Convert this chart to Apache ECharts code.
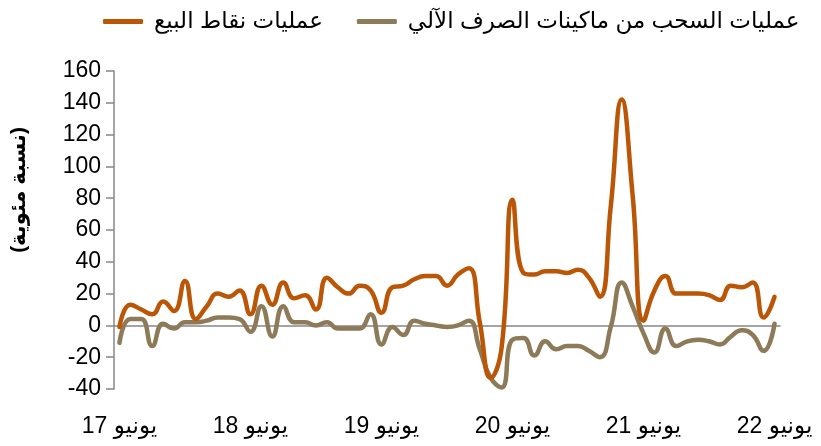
<!DOCTYPE html>
<html>
<head>
<meta charset="utf-8">
<script src="https://cdn.jsdelivr.net/npm/echarts@6/dist/echarts.min.js"></script>
<style>
  html, body { margin: 0; padding: 0; background: #fff; }
  #chart { width: 821px; height: 446px; }
</style>
</head>
<body>
<div id="chart"></div>
<script>
// monthly, June 2017 .. June 2022 (YoY %)
var monthNames = ['يونيو', 'يوليو', 'أغسطس', 'سبتمبر', 'أكتوبر', 'نوفمبر', 'ديسمبر', 'يناير', 'فبراير', 'مارس', 'أبريل', 'مايو'];
var years = ['17', '18', '19', '20', '21', '22'];
var posName = 'عمليات نقاط البيع';
var atmName = 'عمليات السحب من ماكينات الصرف الآلي';
var yTitle = '(نسبة مئوية)';

var posValues = [-1, 13, 10, 7, 15, 9, 28, 4, 12, 20, 18, 22, 7, 25, 13, 27, 17, 19, 10, 30,
  24, 20, 25, 22, 8, 24, 25, 29, 31, 31, 25, 32, 36, 2, -33, -14, 79, 33, 32, 34,
  34, 33, 35, 30, 18, 75, 142, 82, 3, 22, 31, 20, 20, 20, 19, 16, 25, 24, 27, 5, 18];
var atmValues = [-11, 4, 4, -13, 1, -2, 2, 2, 3, 5, 5, 4, -4, 12, -7, 12, 2, 2, 0, 2,
  -2, -2, -2, 7, -12, -1, -6, 3, 1, 0, -1, 0, 3, -15, -33, -39, -9, -8, -19, -10,
  -15, -13, -13, -16, -20, -1, 27, 12, -5, -17, -2, -13, -10, -9, -10, -12, -7, -3, -6, -16, 1];

// category labels: month name + two-digit year
var categories = [];
for (var i = 0; i < posValues.length; i++) {
  var m = i % 12;
  var y = Math.floor((i + 5) / 12);
  categories.push(monthNames[m] + ' ' + years[y]);
}

var font = 'Arial, "Liberation Sans", "DejaVu Sans", sans-serif';
var axisGrey = '#878787';

var chart = echarts.init(document.getElementById('chart'));
chart.setOption({
  animation: false,
  textStyle: { fontFamily: font },
  grid: { left: 114, right: 41, top: 71, bottom: 57 },
  legend: {
    data: [posName, atmName],
    left: 98,
    top: 5,
    icon: 'roundRect',
    itemWidth: 40,
    itemHeight: 5,
    itemGap: 34,
    textStyle: { fontSize: 23, color: '#000', fontFamily: font, padding: [0, 0, 0, 6] }
  },
  xAxis: [{
    type: 'category',
    data: categories,
    boundaryGap: true,
    axisLine: { onZero: true, lineStyle: { color: axisGrey, width: 1.5 } },
    axisTick: { interval: 11, length: 5, lineStyle: { color: axisGrey, width: 1.5 } },
    axisLabel: { show: false }
  }, {
    type: 'category',
    data: categories,
    boundaryGap: true,
    position: 'bottom',
    axisLine: { show: false, onZero: false },
    axisTick: { show: false },
    axisLabel: { interval: 11, margin: 26, fontSize: 23, color: '#000', fontFamily: font }
  }],
  yAxis: {
    type: 'value',
    min: -40,
    max: 160,
    interval: 20,
    name: yTitle,
    nameLocation: 'middle',
    nameRotate: 90,
    nameGap: 84,
    nameTextStyle: { fontSize: 21, fontWeight: 'bold', color: '#000', padding: [0, 0, 0, 80] },
    axisLine: { show: true, lineStyle: { color: axisGrey, width: 1.5 } },
    axisTick: { show: true, length: 8, lineStyle: { color: axisGrey, width: 1.5 } },
    axisLabel: { fontSize: 23, color: '#000', margin: 13 },
    splitLine: { show: false }
  },
  series: [{
    name: atmName,
    type: 'line',
    data: atmValues,
    smooth: 0.5,
    showSymbol: false,
    lineStyle: { color: '#8C7A58', width: 4.5, cap: 'round', join: 'round' },
    itemStyle: { color: '#8C7A58' }
  }, {
    name: posName,
    type: 'line',
    data: posValues,
    smooth: 0.5,
    showSymbol: false,
    lineStyle: { color: '#BB5606', width: 4.5, cap: 'round', join: 'round' },
    itemStyle: { color: '#BB5606' }
  }]
});
</script>
</body>
</html>
